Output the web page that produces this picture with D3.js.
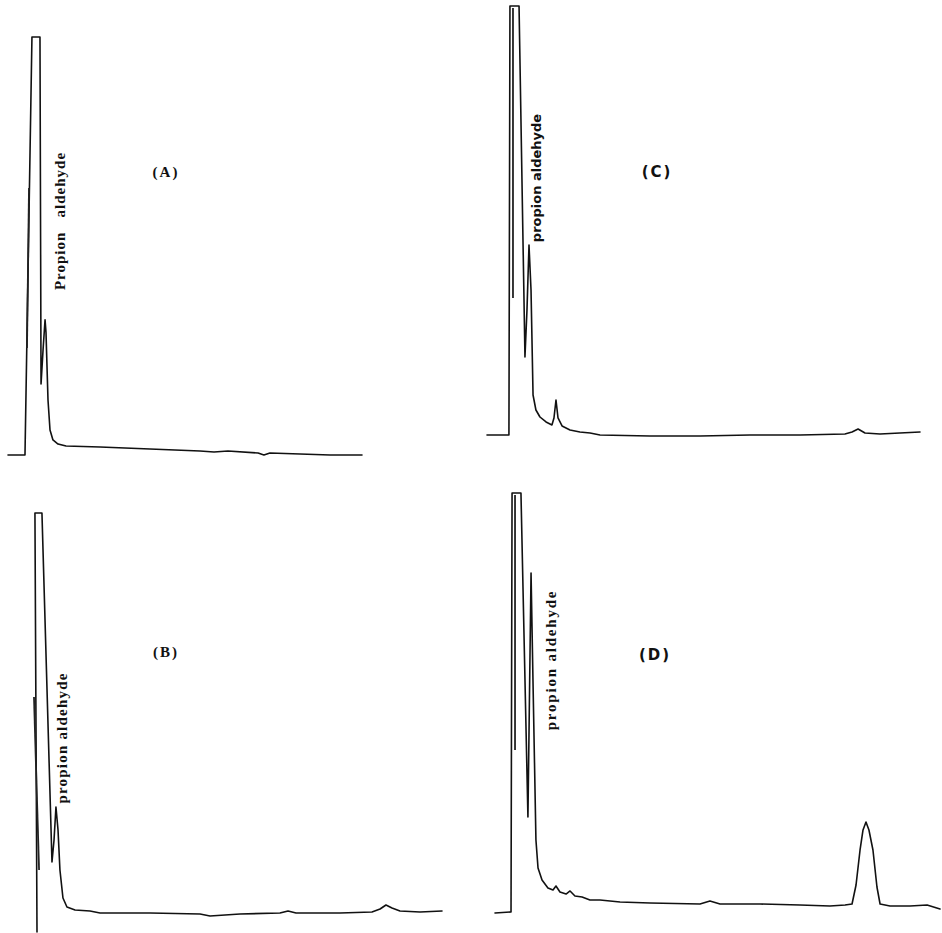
<!DOCTYPE html>
<html>
<head>
<meta charset="utf-8">
<script src="https://cdn.jsdelivr.net/npm/d3@7"></script>
<style>
  html, body { margin: 0; padding: 0; background: #fff; }
  svg { display: block; }
</style>
</head>
<body>
<script>
// Gas chromatograms of four samples (A–D); retention time in min, detector response in % of full scale.

// (A)
const timeA = [0.00, 1.44, 2.03, 2.71, 2.80, 2.97, 3.14, 3.22, 3.39, 3.56, 3.81, 4.24, 4.92, 7.80, 12.03, 16.27, 17.46, 18.64, 21.19, 21.69, 22.20, 24.75, 27.29, 30.00];
const respA = [0.24, 0.24, 100, 100, 17.18, 25.30, 32.5, 29.5, 13.37, 6.21, 3.82, 2.86, 2.39, 2.15, 1.67, 1.19, 0.95, 1.19, 0.72, 0.24, 0.72, 0.48, 0.24, 0.24];
const penTimeA = [1.61, 1.78];
const penRespA = [25.78, 63.96];

// (B)
const timeB = [0.51, 0.36, 0.87, 1.60, 1.75, 1.89, 2.04, 2.18, 2.40, 2.69, 3.28, 4.37, 5.10, 8.74, 12.38, 13.11, 15.29, 18.20, 18.79, 19.37, 22.57, 24.90, 25.49, 25.92, 26.36, 26.94, 28.40, 30.00];
const respB = [-4.75, 100, 100, 12.75, 18.25, 26.5, 20.75, 10.75, 3.75, 1.50, 0.75, 0.50, 0, 0, -0.25, -0.75, -0.25, 0, 0.50, 0, 0, 0.25, 1.00, 2.00, 1.25, 0.50, 0.25, 0.50];
const penTimeB = [0.29, 0.66];
const penRespB = [54.00, 10.75];

// (C)
const timeC = [0.00, 1.52, 1.59, 2.22, 2.63, 2.77, 2.91, 3.05, 3.19, 3.39, 3.67, 4.09, 4.50, 4.64, 4.78, 4.92, 5.20, 5.75, 6.44, 7.14, 7.83, 11.29, 14.76, 18.22, 21.69, 24.80, 25.29, 25.71, 26.19, 27.23, 28.61, 30.00];
const respC = [0.23, 0.23, 100, 100, 18.37, 29.30, 44.42, 33.95, 9.53, 6.05, 4.42, 3.26, 2.56, 4.19, 8.37, 4.19, 2.33, 1.40, 0.93, 0.70, 0.23, 0, 0, 0.23, 0.23, 0.47, 0.93, 1.63, 0.70, 0.47, 0.70, 0.93];
const penTimeC = [1.80, 1.80];
const penRespC = [32.09, 99.53];

// (D)
const timeD = [0.00, 1.08, 1.15, 1.75, 2.22, 2.43, 2.56, 2.76, 2.90, 3.17, 3.57, 3.91, 4.11, 4.38, 4.79, 5.06, 5.39, 5.87, 6.40, 7.08, 8.43, 10.45, 13.82, 14.49, 15.17, 17.87, 20.56, 22.58, 23.60, 24.07, 24.34, 24.61, 24.81, 25.01, 25.21, 25.48, 25.75, 25.96, 26.63, 27.98, 29.13, 30.00];
const respD = [-1.20, -0.96, 100, 100, 21.93, 80.72, 54.94, 16.39, 9.64, 6.75, 4.82, 4.34, 5.30, 3.86, 3.37, 4.10, 2.89, 2.65, 1.93, 1.93, 1.45, 1.20, 0.96, 1.69, 0.96, 0.96, 0.72, 0.48, 0.72, 0.96, 5.54, 13.98, 18.80, 20.72, 18.80, 13.98, 5.06, 0.96, 0.48, 0.48, 0.72, -0.24];
const penTimeD = [1.35, 1.35];
const penRespD = [38.07, 99.52];

// Panel titles and the peak annotation
const panelNames = ["(A)", "(B)", "(C)", "(D)"];
const peakLabels = ["Propion   aldehyde", "propion aldehyde", "propion aldehyde", "propion aldehyde"];

const W = 942, H = 933;
const svg = d3.select("body").append("svg")
  .attr("width", W).attr("height", H)
  .attr("viewBox", `0 0 ${W} ${H}`);
svg.append("rect").attr("width", W).attr("height", H).attr("fill", "#fff");

const serif = "'Liberation Serif', 'DejaVu Serif', serif";
const sans = "'DejaVu Sans', 'Liberation Sans', sans-serif";

// Plot frames: x range spans 0–30 min, y range spans 0–100 %
const panels = [
  { name: panelNames[0], time: timeA, resp: respA, pt: penTimeA, pr: penRespA,
    x: [8, 362], y: [456, 37], title: [166, 172], label: peakLabels[0], lab: [60, 221],
    font: serif, fs: 15, ls: 1.0, tfont: serif },
  { name: panelNames[1], time: timeB, resp: respB, pt: penTimeB, pr: penRespB,
    x: [30, 442], y: [913, 513], title: [166, 652], label: peakLabels[1], lab: [62, 738],
    font: serif, fs: 15, ls: 1.2, tfont: serif },
  { name: panelNames[2], time: timeC, resp: respC, pt: penTimeC, pr: penRespC,
    x: [487, 920], y: [436, 6], title: [657, 172], label: peakLabels[2], lab: [536, 178],
    font: sans, fs: 13, ls: 0, tfont: sans },
  { name: panelNames[3], time: timeD, resp: respD, pt: penTimeD, pr: penRespD,
    x: [495, 940], y: [908, 493], title: [655, 655], label: peakLabels[3], lab: [551, 660],
    font: serif, fs: 15, ls: 1.8, tfont: sans }
];

panels.forEach(p => {
  const xs = d3.scaleLinear().domain([0, 30]).range(p.x);
  const ys = d3.scaleLinear().domain([0, 100]).range(p.y);
  const line = d3.line().x(d => xs(d[0])).y(d => ys(d[1])).curve(d3.curveLinear);
  const g = svg.append("g");

  g.append("path")
    .attr("d", line(d3.zip(p.time, p.resp)))
    .attr("fill", "none")
    .attr("stroke", "#111")
    .attr("stroke-width", 1.6)
    .attr("stroke-linejoin", "round")
    .attr("stroke-linecap", "round");

  // recorder pen return stroke on the off-scale solvent peak
  g.append("path")
    .attr("d", line(d3.zip(p.pt, p.pr)))
    .attr("fill", "none")
    .attr("stroke", "#222")
    .attr("stroke-width", 1.8);

  g.append("text")
    .attr("transform", `translate(${p.lab[0]},${p.lab[1]}) rotate(-90)`)
    .attr("text-anchor", "middle")
    .attr("dominant-baseline", "central")
    .attr("font-family", p.font)
    .attr("font-weight", "bold")
    .attr("font-size", p.fs)
    .attr("letter-spacing", p.ls)
    .attr("fill", "#111")
    .style("white-space", "pre")
    .text(p.label);

  g.append("text")
    .attr("x", p.title[0]).attr("y", p.title[1])
    .attr("text-anchor", "middle")
    .attr("dominant-baseline", "central")
    .attr("font-family", p.tfont)
    .attr("font-weight", "bold")
    .attr("font-size", 15)
    .attr("letter-spacing", 2)
    .attr("fill", "#111")
    .text(p.name);
});
</script>
</body>
</html>
